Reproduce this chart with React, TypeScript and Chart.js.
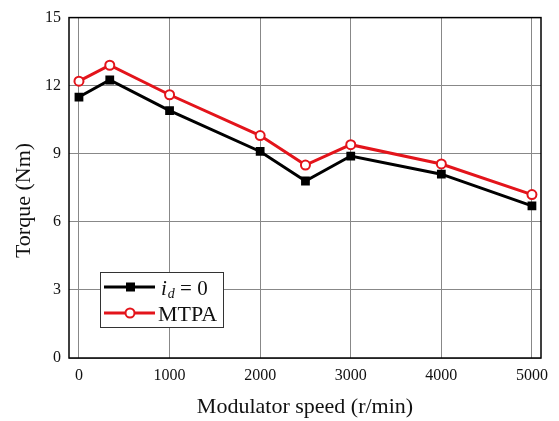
import React, { useEffect, useRef } from "react";
import { Chart, registerables } from "chart.js";

Chart.register(...registerables);

const speeds = [0, 340, 1000, 2000, 2500, 3000, 4000, 5000];
const torqueId0 = [11.5, 12.25, 10.9, 9.1, 7.8, 8.9, 8.1, 6.7];
const torqueMTPA = [12.2, 12.9, 11.6, 9.8, 8.5, 9.4, 8.55, 7.2];
const xTicks = [0, 1000, 2000, 3000, 4000, 5000];
const xTitle = "Modulator speed (r/min)";
const yTitle = "Torque (Nm)";
const seriesLabels = ["i|d| = 0", "MTPA"];

const FONT = "'Liberation Serif', 'Times New Roman', serif";

const decorPlugin = {
  id: "decor",
  afterDraw(chart: any) {
    const { ctx, chartArea } = chart;
    const { left, right, top, bottom } = chartArea;
    ctx.save();
    // frame
    ctx.strokeStyle = "#000";
    ctx.lineWidth = 1.5;
    ctx.strokeRect(left, top, right - left, bottom - top);

    // axis titles
    ctx.fillStyle = "#111";
    ctx.font = `22px ${FONT}`;
    ctx.textAlign = "center";
    ctx.textBaseline = "alphabetic";
    ctx.fillText(xTitle, (left + right) / 2, 413);
    ctx.save();
    ctx.translate(30, 200.5);
    ctx.rotate(-Math.PI / 2);
    ctx.fillText(yTitle, 0, 0);
    ctx.restore();

    // legend
    const bx = 100, by = 272, bw = 123, bh = 55;
    ctx.fillStyle = "#fff";
    ctx.fillRect(bx, by, bw, bh);
    ctx.strokeStyle = "#333";
    ctx.lineWidth = 1;
    ctx.strokeRect(bx + 0.5, by + 0.5, bw, bh);

    const rows = [287, 313];
    const dsets = chart.data.datasets;
    rows.forEach((ry: number, i: number) => {
      const ds = dsets[i];
      ctx.strokeStyle = ds.borderColor;
      ctx.lineWidth = 3;
      ctx.beginPath();
      ctx.moveTo(104, ry);
      ctx.lineTo(155, ry);
      ctx.stroke();
      if (i === 0) {
        ctx.fillStyle = "#000";
        ctx.fillRect(126, ry - 4.5, 9, 9);
      } else {
        ctx.fillStyle = "#fff";
        ctx.lineWidth = 2;
        ctx.beginPath();
        ctx.arc(130, ry, 4.5, 0, Math.PI * 2);
        ctx.fill();
        ctx.stroke();
      }
      ctx.fillStyle = "#111";
      ctx.textAlign = "left";
      ctx.textBaseline = "alphabetic";
      const label: string = ds.label;
      const base = ry + 7.5;
      if (label.includes("|")) {
        const parts = label.split("|");
        let x = 161;
        ctx.font = `italic 21px ${FONT}`;
        ctx.fillText(parts[0], x, base);
        x += ctx.measureText(parts[0]).width + 1;
        ctx.font = `italic 14px ${FONT}`;
        ctx.fillText(parts[1], x, base + 3);
        x += ctx.measureText(parts[1]).width;
        ctx.font = `21px ${FONT}`;
        ctx.fillText(parts[2], x, base);
      } else {
        ctx.font = `22px ${FONT}`;
        ctx.fillText(label, 158, base);
      }
    });
    ctx.restore();
  },
};

export default function App() {
  const ref = useRef<HTMLCanvasElement | null>(null);
  useEffect(() => {
    if (!ref.current) return;
    const chart = new Chart(ref.current, {
      type: "line",
      data: {
        datasets: [
          {
            label: seriesLabels[0],
            data: speeds.map((s, i) => ({ x: s, y: torqueId0[i] })),
            borderColor: "#000",
            backgroundColor: "#000",
            borderWidth: 3,
            pointStyle: "rect",
            pointRadius: 6.2,
            pointBorderWidth: 0,
            pointBackgroundColor: "#000",
          },
          {
            label: seriesLabels[1],
            data: speeds.map((s, i) => ({ x: s, y: torqueMTPA[i] })),
            borderColor: "#e3141b",
            backgroundColor: "#fff",
            borderWidth: 3,
            pointStyle: "circle",
            pointRadius: 4.5,
            pointBorderWidth: 2,
            pointBackgroundColor: "#fff",
            pointBorderColor: "#e3141b",
          },
        ],
      },
      options: {
        responsive: false,
        animation: false,
        layout: { padding: { top: 13, right: 18, left: 0, bottom: 0 } },
        plugins: { legend: { display: false }, tooltip: { enabled: false } },
        scales: {
          x: {
            type: "linear",
            min: -110,
            max: 5100,
            afterBuildTicks: (scale: any) => {
              scale.ticks = xTicks.map((v) => ({ value: v }));
            },
            afterFit: (scale: any) => {
              scale.height = 63;
            },
            grid: { color: "#888", lineWidth: 1, drawTicks: false },
            border: { display: false },
            ticks: {
              padding: 8,
              color: "#111",
              font: { family: FONT, size: 16 },
              maxRotation: 0,
              callback: (v: any) => String(v),
            },
          },
          y: {
            min: 0,
            max: 15,
            afterFit: (scale: any) => {
              scale.width = 69;
            },
            grid: { color: "#888", lineWidth: 1, drawTicks: false },
            border: { display: false },
            ticks: {
              stepSize: 3,
              padding: 8,
              color: "#111",
              font: { family: FONT, size: 16 },
            },
          },
        },
      },
      plugins: [decorPlugin],
    });
    return () => chart.destroy();
  }, []);
  return (
    <div style={{ position: "fixed", left: 0, top: 0, width: 559, height: 421, background: "#fff" }}>
      <canvas ref={ref} width={559} height={421} style={{ width: 559, height: 421 }} />
    </div>
  );
}
